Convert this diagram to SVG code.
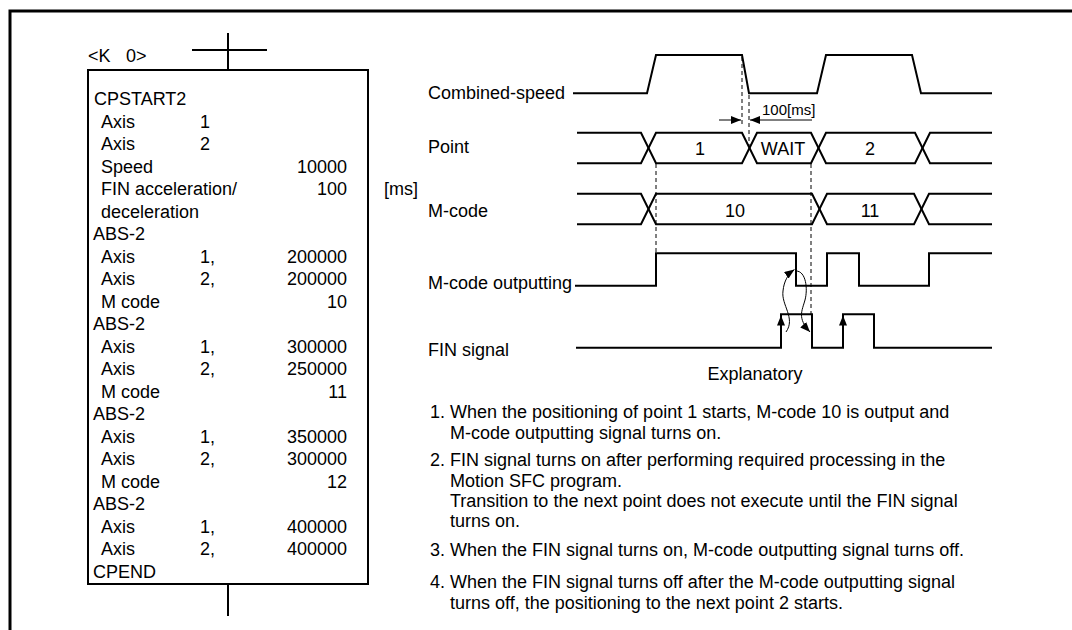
<svg xmlns="http://www.w3.org/2000/svg" width="1072" height="630" viewBox="0 0 1072 630">
<style>
text{font-family:"Liberation Sans",Arial,sans-serif;font-size:18px;fill:#000}
.sm{font-size:15px}
.mid{text-anchor:middle}
.end{text-anchor:end}
.sig{fill:none;stroke:#000;stroke-width:2;stroke-linejoin:miter}
.thin{fill:none;stroke:#000;stroke-width:1}
.dash{fill:none;stroke:#000;stroke-width:1;stroke-dasharray:4 3}
</style>
<defs>
<marker id="ah" viewBox="0 0 10 8" markerWidth="10" markerHeight="8" refX="10" refY="4" orient="auto" markerUnits="userSpaceOnUse">
<path d="M0,0 L10,4 L0,8 z" fill="#000"/>
</marker>
</defs>
<rect width="1072" height="630" fill="#fff"/>
<g id="frame">
<path d="M10,630 L10,11 L1072,11" fill="none" stroke="#000" stroke-width="3"/>
</g>
<g id="program-step">
<path class="sig" d="M228,33 L228,70 M192,50 L267,50"/>
<text x="88" y="62">&lt;K</text><text x="126" y="62">0&gt;</text>
<rect x="88" y="70" width="280" height="514" fill="none" stroke="#000" stroke-width="2"/>
<path class="sig" d="M228,584 L228,616"/>
<text x="94" y="105">CPSTART2</text>
<text x="101" y="127.5">Axis</text><text x="200" y="127.5">1</text>
<text x="101" y="150">Axis</text><text x="200" y="150">2</text>
<text x="101" y="172.5">Speed</text><text class="end" x="347" y="172.5">10000</text>
<text x="101" y="195">FIN acceleration/</text><text class="end" x="347" y="195">100</text>
<text x="384" y="195">[ms]</text>
<text x="101" y="217.5">deceleration</text>
<text x="93" y="240">ABS-2</text>
<text x="101" y="262.5">Axis</text><text x="200" y="262.5">1,</text><text class="end" x="347" y="262.5">200000</text>
<text x="101" y="285">Axis</text><text x="200" y="285">2,</text><text class="end" x="347" y="285">200000</text>
<text x="101" y="307.5">M code</text><text class="end" x="347" y="307.5">10</text>
<text x="93" y="330">ABS-2</text>
<text x="101" y="352.5">Axis</text><text x="200" y="352.5">1,</text><text class="end" x="347" y="352.5">300000</text>
<text x="101" y="375">Axis</text><text x="200" y="375">2,</text><text class="end" x="347" y="375">250000</text>
<text x="101" y="397.5">M code</text><text class="end" x="347" y="397.5">11</text>
<text x="93" y="420">ABS-2</text>
<text x="101" y="442.5">Axis</text><text x="200" y="442.5">1,</text><text class="end" x="347" y="442.5">350000</text>
<text x="101" y="465">Axis</text><text x="200" y="465">2,</text><text class="end" x="347" y="465">300000</text>
<text x="101" y="488">M code</text><text class="end" x="347" y="488">12</text>
<text x="93" y="510">ABS-2</text>
<text x="101" y="532.5">Axis</text><text x="200" y="532.5">1,</text><text class="end" x="347" y="532.5">400000</text>
<text x="101" y="555">Axis</text><text x="200" y="555">2,</text><text class="end" x="347" y="555">400000</text>
<text x="93" y="577.5">CPEND</text>
</g>
<g id="signal-labels">
<text x="428" y="99">Combined-speed</text>
<text x="428" y="153">Point</text>
<text x="428" y="217">M-code</text>
<text x="428" y="289">M-code outputting</text>
<text x="428" y="356">FIN signal</text>
</g>
<g id="combined-speed">
<path class="sig" d="M573,93.3 L647,93.3 L656,55 L742,55 L749,93.3 L817,93.3 L826,55 L912,55 L921,93.3 L992,93.3"/>
</g>
<g id="point">
<path class="sig" d="M577,132.7 L641,132.7 L656,163.3 L742,163.3 L757,132.7 L811,132.7 L826,163.3 L915,163.3 L930,132.7 L992,132.7"/>
<path class="sig" d="M577,163.3 L641,163.3 L656,132.7 L742,132.7 L757,163.3 L811,163.3 L826,132.7 L915,132.7 L930,163.3 L992,163.3"/>
<text class="mid" x="700" y="155">1</text>
<text class="mid" x="783" y="155">WAIT</text>
<text class="mid" x="870" y="155">2</text>
</g>
<g id="m-code">
<path class="sig" d="M577,193.7 L641,193.7 L656,224.3 L812,224.3 L827,193.7 L914,193.7 L929,224.3 L992,224.3"/>
<path class="sig" d="M577,224.3 L641,224.3 L656,193.7 L812,193.7 L827,224.3 L914,224.3 L929,193.7 L992,193.7"/>
<text class="mid" x="735" y="216.5">10</text>
<text class="mid" x="870" y="216.5">11</text>
</g>
<g id="m-code-outputting">
<path class="sig" d="M575,285.7 L656,285.7 L656,253.3 L796,253.3 L796,285.7 L827,285.7 L827,253.3 L859,253.3 L859,285.7 L929,285.7 L929,253.3 L992,253.3"/>
</g>
<g id="fin-signal">
<path class="sig" d="M576,347.7 L781,347.7 L781,314.3 L812,314.3 L812,347.7 L843,347.7 L843,314.3 L874,314.3 L874,347.7 L992,347.7"/>
</g>
<g id="connectors">
<path class="dash" d="M742,57 L742,125"/>
<path class="dash" d="M749,95 L749,147"/>
<path class="dash" d="M656,164 L656,253"/>
<path class="dash" d="M811,164 L811,314"/>
<path class="thin" d="M719,120 L741,120" marker-end="url(#ah)"/>
<path class="thin" d="M812,120 L750,120" marker-end="url(#ah)"/>
<text class="sm" x="762" y="115">100[ms]</text>
<path class="thin" d="M781,330 L781,315.5" marker-end="url(#ah)"/>
<path class="thin" d="M843,330 L843,315.5" marker-end="url(#ah)"/>
<path class="thin" d="M786,332 C796,318 781,305 783,291 C784,281 788,274 794.5,269.5" marker-end="url(#ah)"/>
<path class="thin" d="M796,271 C806,271 808,289 805,300 C802,311 797,318 810,332" marker-end="url(#ah)"/>
</g>
<g id="explanatory">
<text class="mid" x="755" y="380">Explanatory</text>
<text x="430" y="418">1.</text><text x="450" y="418">When the positioning of point 1 starts, M-code 10 is output and</text>
<text x="450" y="439">M-code outputting signal turns on.</text>
<text x="430" y="466">2.</text><text x="450" y="466">FIN signal turns on after performing required processing in the</text>
<text x="450" y="487">Motion SFC program.</text>
<text x="450" y="507">Transition to the next point does not execute until the FIN signal</text>
<text x="450" y="527">turns on.</text>
<text x="430" y="556">3.</text><text x="450" y="556">When the FIN signal turns on, M-code outputting signal turns off.</text>
<text x="430" y="588">4.</text><text x="450" y="588">When the FIN signal turns off after the M-code outputting signal</text>
<text x="450" y="609">turns off, the positioning to the next point 2 starts.</text>
</g>
</svg>
